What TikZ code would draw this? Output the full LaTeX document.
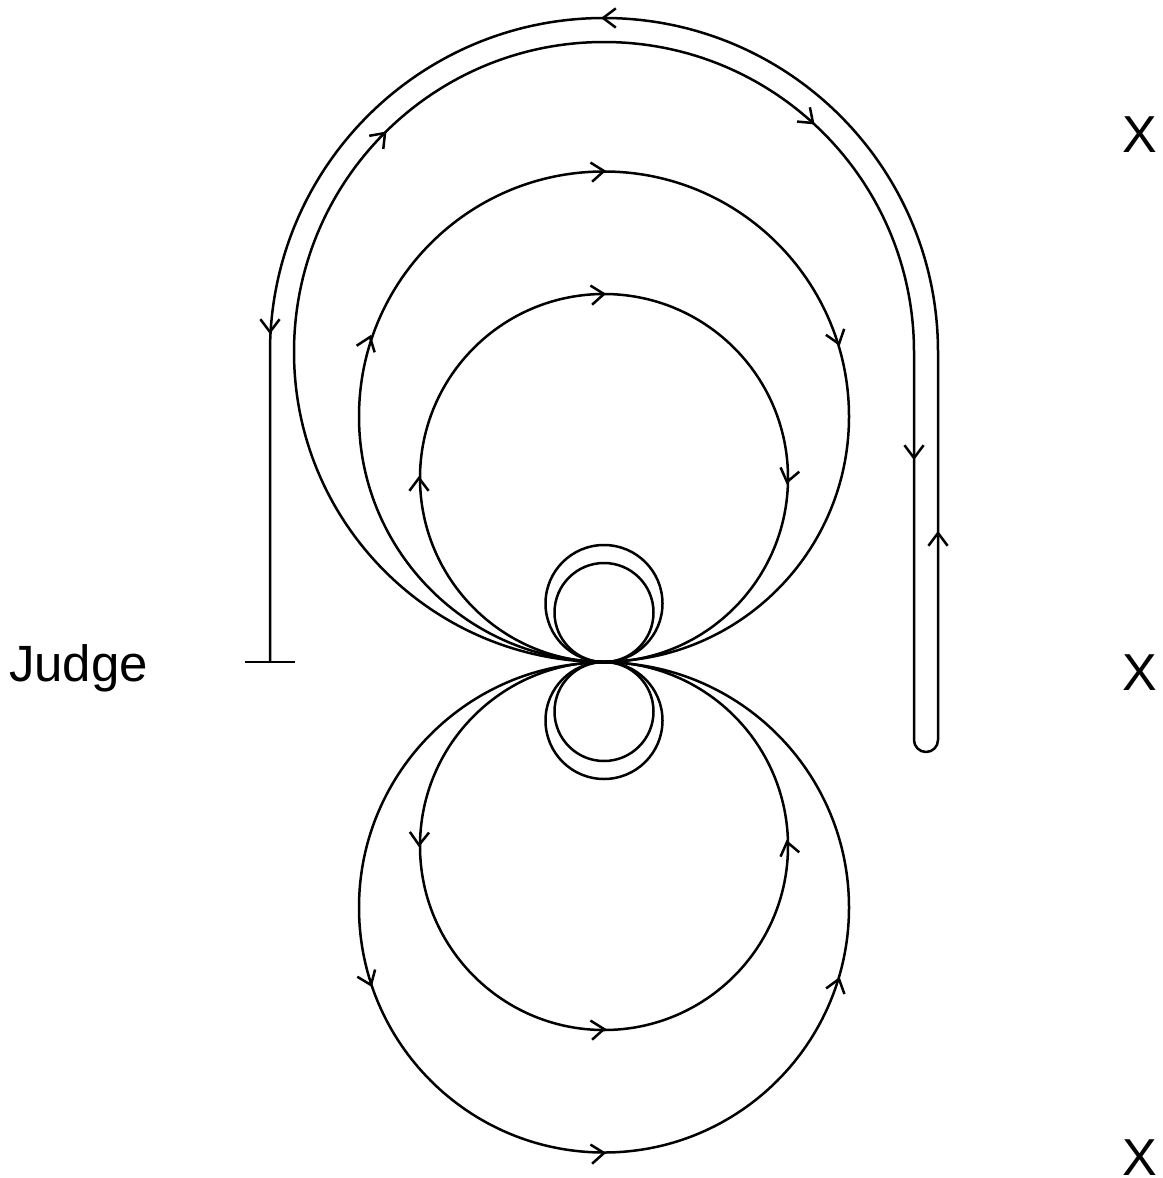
\documentclass[tikz,border=0pt]{standalone}
\usepackage{fontspec}
\setmainfont{Liberation Sans}
\newcommand{\headat}[3]{\draw[headmark,shift={(#1,#2)},rotate=#3] (-12.8,-9.6) -- (0,0) -- (-12.8,9.6);}
\tikzset{
  wire/.style={draw=black,line width=2.5pt,line join=round},
  headmark/.style={draw=black,line width=2.5pt,line join=miter},
  label/.style={inner sep=0pt,font=\fontsize{51}{51}\selectfont,anchor=base},
  xlabel/.style={inner sep=0pt,font=\fontsize{52}{52}\selectfont,anchor=base}
}
\begin{document}
\begin{tikzpicture}[x=1pt,y=-1pt]
\useasboundingbox (0,0) rectangle (1162,1178);
% upper loops
\draw[wire] (604,478) circle[radius=184];
\draw[wire] (604,416.5) circle[radius=245];
\draw[wire] (604,603.5) circle[radius=58.5];
\draw[wire] (604,612.5) circle[radius=49.5];
% lower loops
\draw[wire] (604,846) circle[radius=184];
\draw[wire] (604,907.5) circle[radius=245];
\draw[wire] (604,720.5) circle[radius=58.5];
\draw[wire] (604,711.5) circle[radius=49.5];
% long path
\draw[wire] (604,662) arc[start angle=90,end angle=360,radius=310]
  -- (914,740) arc[start angle=180,end angle=0,radius=12]
  -- (938,352) arc[start angle=0,end angle=-180,radius=334]
  -- (270,662);
\draw[wire] (245,662) -- (295,662);
% arrowheads
\headat{603}{18}{180}
\headat{813}{123}{-42}
\headat{385}{133}{47}
\headat{270}{332}{-90}
\headat{914}{458}{-90}
\headat{938}{533}{90}
\headat{604}{171}{5}
\headat{839}{344}{-72}
\headat{370}{337}{70}
\headat{604}{294}{5}
\headat{787}{482}{-103}
\headat{419}{478}{90}
\headat{419}{845}{-92}
\headat{787}{842}{103}
\headat{604}{1029}{5}
\headat{371}{985}{-68}
\headat{839}{979}{73}
\headat{604}{1153}{5}
% labels
\node[label] (judge) at (78.5,681) {Judge};
\node[xlabel] (xa) at (1140,152) {X};
\node[xlabel] (xb) at (1140,690) {X};
\node[xlabel] (xc) at (1140,1175) {X};
\end{tikzpicture}
\end{document}
